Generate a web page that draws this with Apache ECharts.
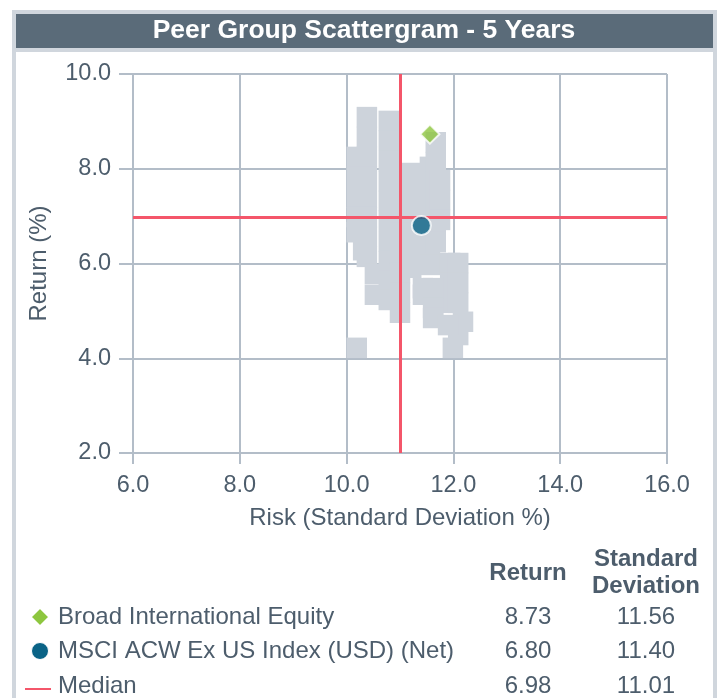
<!DOCTYPE html>
<html><head><meta charset="utf-8">
<script src="https://cdn.jsdelivr.net/npm/echarts@6/dist/echarts.min.js"></script>
<style>html,body{margin:0;padding:0;background:#fff}#c{width:721px;height:698px}</style>
</head><body><div id="c"></div>
<script>
const chartTitle = 'Peer Group Scattergram - 5 Years';
const xAxisName = 'Risk (Standard Deviation %)';
const yAxisName = 'Return (%)';
const xRange = [6, 16, 2];
const yRange = [2, 10, 2];

// peer group universe (risk, return)
const peerRisk = [
  10.38,10.38,10.38,10.38,10.38,10.38,10.38,10.38,
  10.53,10.53,
  10.79,10.79,10.79,10.79,10.79,10.79,10.79,10.79,10.79,10.79,
  10.19,10.19,10.19,10.19,10.19,
  10.31,
  11.00,11.00,11.00,11.00,11.00,
  11.21,11.21,11.21,11.21,11.21,11.21,
  11.56,11.56,11.56,11.56,11.56,11.56,
  11.67,11.67,11.67,11.67,11.67,11.67,
  11.75,11.75,11.75,
  11.94,11.94,11.94,
  12.09,12.09,12.09,
  12.18,12.09,11.99,
  11.43,11.43,
  11.62,11.62,11.62,
  11.90,
  10.19
];
const peerReturn = [
  9.09,8.67,8.25,7.83,7.40,6.98,6.56,6.14,
  5.78,5.34,
  9.01,8.59,8.16,7.74,7.32,6.90,6.47,6.05,5.63,5.23,
  8.25,7.83,7.40,6.98,6.66,
  6.28,
  6.64,6.22,5.80,5.38,4.96,
  7.91,7.49,7.07,6.64,6.22,5.91,
  8.04,7.61,7.19,6.77,6.35,5.97,
  8.56,8.14,7.72,7.30,6.88,6.45,
  7.76,7.34,6.92,
  6.01,5.59,5.17,
  6.01,5.59,5.17,
  4.77,4.49,4.22,
  5.48,5.34,
  5.48,5.06,4.85,
  4.70,
  4.22
];

const seriesNames = ['Broad International Equity', 'MSCI ACW Ex US Index (USD) (Net)', 'Median'];
const seriesReturn = [8.73, 6.80, 6.98];
const seriesRisk = [11.56, 11.40, 11.01];
const colHeaders = ['Return', 'Standard', 'Deviation'];

const FONT = '"Liberation Sans", Arial, Helvetica, sans-serif';
const TXT = '#4d5d6c';
const GRIDC = '#b3bdc8';
const RED = '#f4566a';

const chart = echarts.init(document.getElementById('c'), null, {renderer: 'canvas'});

const peerData = peerRisk.map((r, i) => [r, peerReturn[i]]);

function txt(text, x, y, size, weight, align, color) {
  return {
    type: 'text', z: 100, x: x, y: y,
    style: {
      text: text, font: (weight || 'normal') + ' ' + size + 'px ' + FONT,
      fill: color || TXT,
      textAlign: align || 'left', align: align || 'left',
      textVerticalAlign: 'middle', verticalAlign: 'middle'
    }
  };
}

const LF = 24;
const colRet = 528, colSd = 646, nameX = 58;
const rowY = [617, 651, 686];
const graphics = [
  {type: 'rect', z: -10, shape: {x: 12, y: 10, width: 705, height: 720}, style: {fill: '#d0d6dd'}},
  {type: 'rect', z: -9, shape: {x: 16, y: 14, width: 697, height: 34}, style: {fill: '#5a6b79'}},
  {type: 'rect', z: -9, shape: {x: 16, y: 52, width: 697, height: 700}, style: {fill: '#ffffff'}},
  txt(chartTitle, 364, 31, 26.5, 'bold', 'center', '#ffffff'),
  txt(colHeaders[0], colRet, 573, LF, 'bold', 'center'),
  txt(colHeaders[1], colSd, 559, LF, 'bold', 'center'),
  txt(colHeaders[2], colSd, 586, LF, 'bold', 'center'),
  {type: 'polygon', z: 100, shape: {points: [[40, rowY[0] - 9], [49, rowY[0]], [40, rowY[0] + 9], [31, rowY[0]]]},
    style: {fill: '#8dc63f', stroke: '#ffffff', lineWidth: 1.5}},
  {type: 'circle', z: 100, shape: {cx: 40, cy: rowY[1], r: 8.5}, style: {fill: '#0a6386', stroke: '#fff', lineWidth: 1}},
  {type: 'line', z: 100, shape: {x1: 25, y1: rowY[2] + 3, x2: 51, y2: rowY[2] + 3}, style: {stroke: RED, lineWidth: 2}}
];
seriesNames.forEach((n, i) => {
  graphics.push(txt(n, nameX, rowY[i], LF, 'normal', 'left'));
  graphics.push(txt(seriesReturn[i].toFixed(2), colRet, rowY[i], LF, 'normal', 'center'));
  graphics.push(txt(seriesRisk[i].toFixed(2), colSd, rowY[i], LF, 'normal', 'center'));
});

const option = {
  animation: false,
  backgroundColor: '#ffffff',
  textStyle: {fontFamily: FONT},
  grid: {left: 133, right: 54, top: 74, bottom: 245, containLabel: false},
  xAxis: {
    type: 'value', min: xRange[0], max: xRange[1], interval: xRange[2],
    name: xAxisName, nameLocation: 'middle', nameGap: 53,
    nameTextStyle: {color: TXT, fontSize: 24, fontFamily: FONT},
    axisLine: {show: true, onZero: false, lineStyle: {color: GRIDC, width: 2}},
    axisTick: {show: true, length: 11, lineStyle: {color: GRIDC, width: 2}},
    axisLabel: {color: TXT, fontSize: 23.5, fontFamily: FONT, margin: 21, formatter: v => v.toFixed(1)},
    splitLine: {show: true, lineStyle: {color: GRIDC, width: 2}}
  },
  yAxis: {
    type: 'value', min: yRange[0], max: yRange[1], interval: yRange[2],
    name: yAxisName, nameLocation: 'middle', nameGap: 82, nameRotate: 90,
    nameTextStyle: {color: TXT, fontSize: 24, fontFamily: FONT},
    axisLine: {show: true, onZero: false, lineStyle: {color: GRIDC, width: 2}},
    axisTick: {show: true, length: 14, lineStyle: {color: GRIDC, width: 2}},
    axisLabel: {color: TXT, fontSize: 23.5, fontFamily: FONT, margin: 22, formatter: v => v.toFixed(1)},
    splitLine: {show: true, lineStyle: {color: GRIDC, width: 2}}
  },
  graphic: graphics,
  series: [
    {type: 'scatter', name: 'Peers', data: peerData, symbol: 'rect', symbolSize: 20.5, z: 2, silent: true,
      itemStyle: {color: '#cdd3db', opacity: 1}},
    {type: 'scatter', name: seriesNames[2], data: [], z: 3, silent: true,
      markLine: {silent: true, symbol: 'none', animation: false, label: {show: false},
        lineStyle: {color: RED, width: 3, type: 'solid'},
        data: [{xAxis: seriesRisk[2]}, {yAxis: seriesReturn[2]}]}},
    {type: 'scatter', name: seriesNames[1], data: [[seriesRisk[1], seriesReturn[1]]], symbol: 'circle', symbolSize: 19, z: 5,
      itemStyle: {color: '#0a6386', borderColor: '#ffffff', borderWidth: 2}},
    {type: 'scatter', name: seriesNames[0], data: [[seriesRisk[0], seriesReturn[0]]], symbol: 'diamond', symbolSize: 19, z: 5,
      itemStyle: {color: '#8dc63f', borderColor: '#ffffff', borderWidth: 2}}
  ]
};
chart.setOption(option);
</script></body></html>
